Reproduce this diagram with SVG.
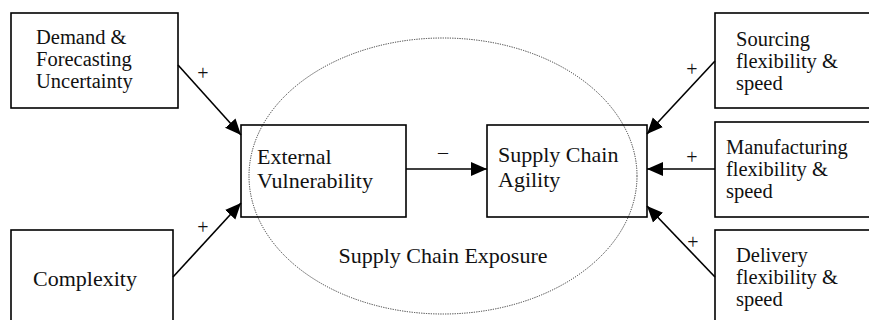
<svg xmlns="http://www.w3.org/2000/svg" width="869" height="320" viewBox="0 0 869 320">
<style>
.box{fill:none;stroke:#000;stroke-width:1.6}
.t{font-family:"Liberation Serif","Times New Roman",serif;font-size:22px;fill:#111}
.m{font-family:"Liberation Serif","Times New Roman",serif;font-size:20.5px;fill:#111}
.lbl{font-family:"Liberation Serif","Times New Roman",serif;font-size:20px;fill:#111}
.c{stroke:#000;stroke-width:1.6;fill:none}
</style>
<defs>
<marker id="ah" markerUnits="userSpaceOnUse" markerWidth="16" markerHeight="16" viewBox="0 0 16 16" refX="16" refY="8" orient="auto">
<path d="M0,1 L16,8 L0,15 Z" fill="#000"/>
</marker>
</defs>
<rect width="869" height="320" fill="#fff"/>
<g id="exposure">
<ellipse cx="443" cy="176" rx="194" ry="138" fill="none" stroke="#333" stroke-width="1" stroke-dasharray="1.2 1.2"/>
<text class="t" x="443" y="263" text-anchor="middle">Supply Chain Exposure</text>
</g>
<g id="demand">
<rect class="box" x="11" y="13" width="167" height="95"/>
<text class="m" x="36" y="43.5">Demand &amp;<tspan x="36" dy="22">Forecasting</tspan><tspan x="36" dy="22">Uncertainty</tspan></text>
</g>
<g id="complexity">
<rect class="box" x="11" y="230" width="162" height="100"/>
<text class="t" x="33" y="286">Complexity</text>
</g>
<g id="vulnerability">
<rect class="box" x="241" y="125" width="165" height="92"/>
<text class="t" x="257" y="164">External<tspan x="257" dy="24">Vulnerability</tspan></text>
</g>
<g id="agility">
<rect class="box" x="487" y="125" width="160" height="92"/>
<text class="t" x="498" y="162">Supply Chain<tspan x="498" dy="25">Agility</tspan></text>
</g>
<g id="sourcing">
<rect class="box" x="715" y="13" width="170" height="95"/>
<text class="m" x="736" y="45.5">Sourcing<tspan x="736" dy="22">flexibility &amp;</tspan><tspan x="736" dy="22">speed</tspan></text>
</g>
<g id="manufacturing">
<rect class="box" x="715" y="122" width="170" height="95"/>
<text class="m" x="726" y="153.5">Manufacturing<tspan x="726" dy="22">flexibility &amp;</tspan><tspan x="726" dy="22">speed</tspan></text>
</g>
<g id="delivery">
<rect class="box" x="715" y="230" width="170" height="100"/>
<text class="m" x="736" y="261.5">Delivery<tspan x="736" dy="22">flexibility &amp;</tspan><tspan x="736" dy="22">speed</tspan></text>
</g>
<g id="connectors">
<line class="c" x1="178" y1="65" x2="241" y2="135" marker-end="url(#ah)"/>
<line class="c" x1="173" y1="277" x2="241" y2="203" marker-end="url(#ah)"/>
<line class="c" x1="406" y1="169" x2="487" y2="169" marker-end="url(#ah)"/>
<line class="c" x1="715" y1="61" x2="647" y2="134" marker-end="url(#ah)"/>
<line class="c" x1="715" y1="169" x2="647" y2="169" marker-end="url(#ah)"/>
<line class="c" x1="715" y1="277" x2="647" y2="206" marker-end="url(#ah)"/>
<text class="lbl" x="203" y="80" text-anchor="middle">+</text>
<text class="lbl" x="203" y="234" text-anchor="middle">+</text>
<text class="lbl" x="443" y="159" text-anchor="middle">–</text>
<text class="lbl" x="692" y="76" text-anchor="middle">+</text>
<text class="lbl" x="692" y="164" text-anchor="middle">+</text>
<text class="lbl" x="693" y="249" text-anchor="middle">+</text>
</g>
</svg>
